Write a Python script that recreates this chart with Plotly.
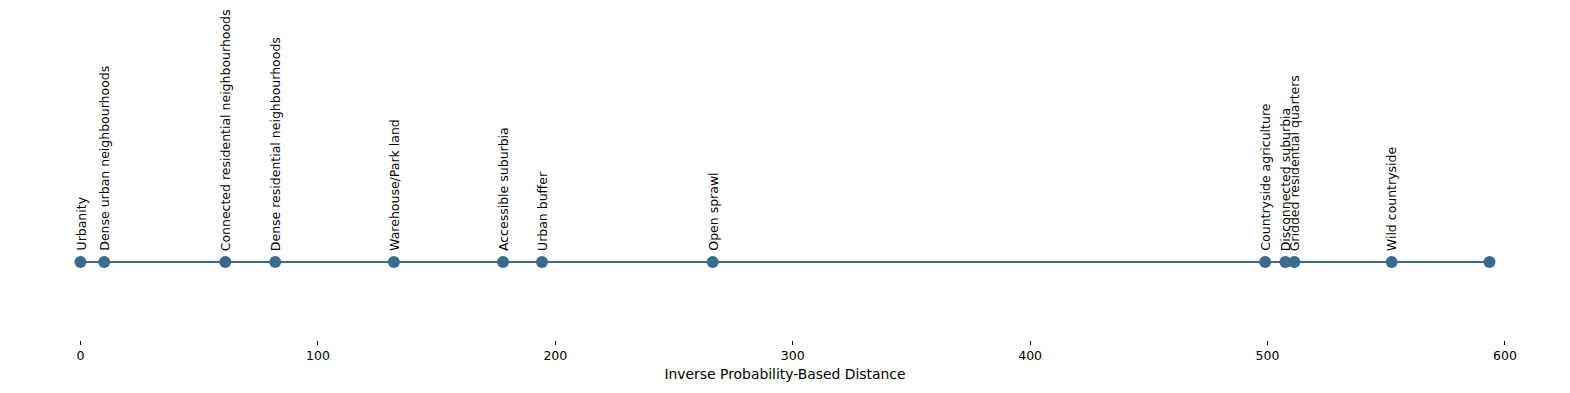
import plotly.graph_objects as go

labels = [
    "Urbanity",
    "Dense urban neighbourhoods",
    "Connected residential neighbourhoods",
    "Dense residential neighbourhoods",
    "Warehouse/Park land",
    "Accessible suburbia",
    "Urban buffer",
    "Open sprawl",
    "Countryside agriculture",
    "Disconnected suburbia",
    "Gridded residential quarters",
    "Wild countryside",
    "",
]
distances = [0, 10, 61, 82, 132, 178, 194.4, 266.3, 499, 507.5, 511.3, 552.3, 593.5]
tick_vals = [0, 100, 200, 300, 400, 500, 600]

color = "#3b6b8c"
font = "DejaVu Sans"

fig = go.Figure()
fig.add_trace(go.Scatter(
    x=distances, y=[0] * len(distances),
    mode="lines+markers",
    line=dict(color=color, width=2),
    marker=dict(color=color, size=12),
    hoverinfo="x",
    showlegend=False,
))

for d, lab in zip(distances, labels):
    if not lab:
        continue
    fig.add_annotation(
        x=d, y=0, text=lab, textangle=-90,
        showarrow=False, xanchor="center", yanchor="bottom",
        yshift=9, font=dict(family=font, size=12.5, color="black"),
    )

fig.update_layout(
    width=1570, height=393,
    margin=dict(l=10, r=10, t=0, b=53),
    paper_bgcolor="white", plot_bgcolor="white",
    font=dict(family=font, size=12.5, color="black"),
    xaxis=dict(
        range=[-29.7, 623.2],
        tickvals=tick_vals,
        ticks="outside", ticklen=4, tickwidth=1, tickcolor="black",
        showline=False, showgrid=False, zeroline=False,
        title=dict(text="Inverse Probability-Based Distance",
                   font=dict(family=font, size=13.9), standoff=7),
        tickfont=dict(family=font, size=12.5),
    ),
    yaxis=dict(
        range=[-0.78, 2.62],
        visible=False, showgrid=False, zeroline=False,
    ),
)

fig.write_html("out.html")
